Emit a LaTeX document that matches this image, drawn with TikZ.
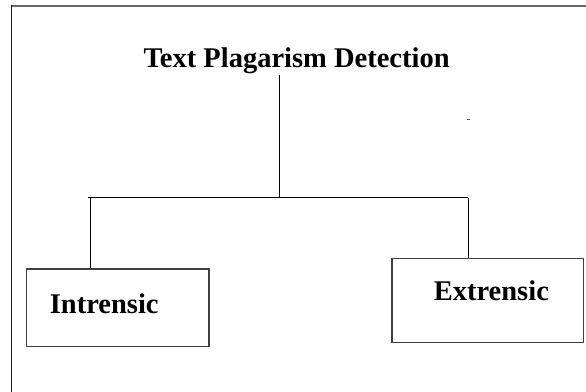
\documentclass[tikz,border=0pt]{standalone}
\usepackage{fontspec}
\setmainfont{Liberation Serif}
\usetikzlibrary{positioning}

\begin{document}
\begin{tikzpicture}[x=1pt,y=-1pt,line width=1.1pt,
	main node/.style={font=\fontsize{28.5}{34}\selectfont\bfseries,inner sep=0pt},
	box node/.style={draw=black!75,line width=1.3pt,inner sep=0pt}]

	\useasboundingbox (0,0) rectangle (586,391);
	% page frame
	\draw[black!60,line width=2pt] (10.7,5.5) -- (587,5.5);
	\draw[black!90,line width=1.6pt] (11.4,5) -- (11.4,392);

	\node[main node,anchor=base west] (1) at (143,67.7) {Text Plagarism Detection};
	\node[box node,minimum width=182.3pt,minimum height=77.7pt] (2) at (117.9,307.9) {};
	\node[box node,minimum width=191.3pt,minimum height=84pt] (3) at (487.7,300.3) {};
	\node[main node,anchor=base west] (4) at (49.3,313.3) {Intrensic};
	\node[main node,anchor=base west] (5) at (433.3,300.7) {Extrensic};

	\coordinate (hub) at (279.3,197.5);
	\coordinate (left) at (88,197.5);
	\coordinate (ldrop) at (90.7,197.5);
	\coordinate (right) at (468.3,197.5);

	\draw (1.south -| hub) -- (hub);
	\draw (left) -- (right);
	\draw (ldrop) -- (2.north -| ldrop);
	\draw (right) -- (3.north -| right);

	% stray mark
	\draw[black!70,line width=1.5pt] (466.5,119.7) -- (469.5,119.7);

\end{tikzpicture}
\end{document}
